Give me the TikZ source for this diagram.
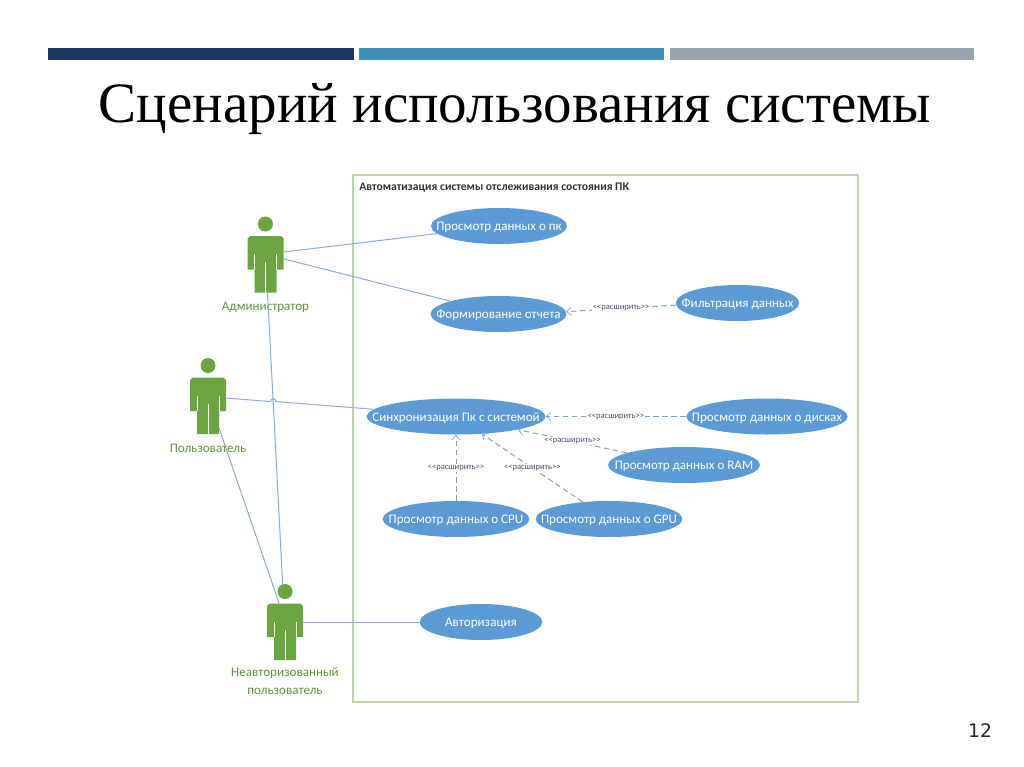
\documentclass[tikz,border=0pt]{standalone}
\usepackage{fontspec}
\setmainfont{Carlito}
\newfontfamily\titlefont{Liberation Serif}
\newfontfamily\numfont{DejaVu Sans}
\usetikzlibrary{shapes.geometric,arrows.meta,calc}
\definecolor{usecase}{HTML}{5B9BD5}
\definecolor{actorgreen}{HTML}{6AA53F}
\definecolor{framegreen}{HTML}{BAD5A6}
\definecolor{assoc}{HTML}{8AABD8}
\definecolor{dashc}{HTML}{7E9FC8}
\definecolor{extc}{HTML}{44546A}
\definecolor{barA}{HTML}{1C3564}
\definecolor{barB}{HTML}{3F8DB9}
\definecolor{barC}{HTML}{97A3AD}
\newcommand{\uctxt}[1]{\smash{\raisebox{-0.38em}{\makebox[0pt]{#1}}}}
\newcommand{\exttxt}{\raisebox{-0.1em}{<{}<расширить>{}>}}
\tikzset{
  x=0.75pt,y=-0.75pt,
  uc/.style={ellipse,fill=usecase,inner sep=0pt,text=white,font=\fontsize{9.8}{11}\selectfont},
  assocline/.style={draw=assoc,line width=0.75pt},
  extline/.style={draw=dashc,line width=0.75pt,dash pattern=on 4.2pt off 2.6pt,-{Straight Barb[length=3.6pt,width=6pt,line width=0.5pt]}},
  extlabel/.style={fill=white,inner sep=0.8pt,text=extc,font=\fontsize{6.4}{7}\selectfont},
  actorlabel/.style={text=actorgreen!90!black,font=\fontsize{9.8}{13}\selectfont,align=center},
  barstyle/.style={inner sep=0pt,minimum height=9pt,anchor=north west},
  actorbox/.style={inner sep=0pt,minimum width=27pt,minimum height=57.5pt}
}
\newcommand{\actorfig}[2]{%
  \begin{scope}[shift={(#1,#2)}]
    \fill[actorgreen] (0,0) circle[radius=7.5];
    \fill[actorgreen] (-15.5,12) -- (15.5,12) -- (18,14.5) -- (18,45.5) -- (11,45.5) -- (11,68.5) -- (-11,68.5) -- (-11,45.5) -- (-18,45.5) -- (-18,14.5) -- cycle;
    \draw[white,line width=0.6pt] (-11,30) -- (-11,45.5) (11,30) -- (11,45.5) (0,38) -- (0,68.5);
  \end{scope}}
\begin{document}
\begin{tikzpicture}
\useasboundingbox (0,0) rectangle (1024,767);
\fill[white] (0,0) rectangle (1024,767);
% header
\node[barstyle,fill=barA,minimum width=229.5pt] (barone) at (48,48) {};
\node[barstyle,fill=barB,minimum width=228.75pt] (bartwo) at (359,48) {};
\node[barstyle,fill=barC,minimum width=228pt] (barthree) at (670,48) {};
\node[font=\titlefont\fontsize{42.8}{50}\selectfont,text=black] (title) at (515,109) {Сценарий использования системы};
% frame
\node[draw=framegreen,line width=1.1pt,minimum width=378.75pt,minimum height=395.25pt,inner sep=0pt] (frame) at (605.5,438.5) {};
\node[anchor=west,text=black!80,font=\fontsize{8.75}{10}\selectfont\bfseries,inner sep=0pt] (frametitle) at (359,187.5) {Автоматизация системы отслеживания состояния ПК};
% actors
\actorfig{265.5}{224}
\actorfig{208}{365.5}
\actorfig{285}{591.5}
\node[actorbox] (admin) at (265.5,255) {};
\node[actorbox] (user) at (208,396.5) {};
\node[actorbox] (guest) at (285,622.5) {};
\node[actorlabel] (adminlabel) at (265.5,307) {Администратор};
\node[actorlabel] (userlabel) at (208,448) {Пользователь};
\node[actorlabel] (guestlabel) at (285,681) {Неавторизованный\\пользователь};
% use cases
\node[uc,minimum width=102pt,minimum height=27pt] (viewpc) at (499,226) {\uctxt{Просмотр данных о пк}};
\node[uc,minimum width=102pt,minimum height=27pt] (report) at (498.5,314) {\uctxt{Формирование отчета}};
\node[uc,minimum width=92.5pt,minimum height=27pt] (filter) at (737.5,303) {\uctxt{Фильтрация данных}};
\node[uc,minimum width=134pt,minimum height=27pt] (sync) at (456,416.5) {\uctxt{Синхронизация Пк с системой}};
\node[uc,minimum width=121pt,minimum height=27pt] (disks) at (767,416.5) {\uctxt{Просмотр данных о дисках}};
\node[uc,minimum width=114pt,minimum height=27pt] (ram) at (684,465) {\uctxt{Просмотр данных о RAM}};
\node[uc,minimum width=110pt,minimum height=27pt] (cpu) at (456,519) {\uctxt{Просмотр данных о CPU}};
\node[uc,minimum width=110pt,minimum height=27pt] (gpu) at (609,519) {\uctxt{Просмотр данных о GPU}};
\node[uc,minimum width=92pt,minimum height=27pt] (auth) at (481,622) {\uctxt{Авторизация}};
% associations
\coordinate (adminR1) at (284,252);
\coordinate (adminR2) at (284,259);
\coordinate (adminB) at (267.5,293);
\coordinate (userR) at (226,398);
\coordinate (userB) at (219,428);
\coordinate (guestT) at (282.7,585);
\coordinate (guestTL) at (279,603);
\coordinate (guestR) at (303,622);
\coordinate (hopstart) at (270.5,401.6);
\draw[assocline] (adminR1) -- (viewpc.187);
\draw[assocline] (adminR2) -- (report.165);
\draw[assocline] (adminB) -- (guestT);
\draw[assocline] (userR) -- (hopstart) arc[start angle=180,end angle=360,radius=2.8] -- (sync.175);
\draw[assocline] (userB) -- (guestTL);
\draw[assocline] (guestR) -- (auth.west);
% extends
\draw[extline] (filter.182) -- node[extlabel,pos=0.5] (extA) {\exttxt} (report.2.6);
\draw[extline] (disks.west) -- node[extlabel,pos=0.5] (extB) {\exttxt} (sync.east);
\draw[extline] (ram.168) -- node[extlabel,pos=0.5] (extC) {\exttxt} (sync.-12);
\draw[extline] (cpu.north) -- node[extlabel,pos=0.5] (extD) {\exttxt} (sync.south);
\draw[extline] (gpu.147) -- node[extlabel,pos=0.5] (extE) {\exttxt} (sync.-34);
\node[font=\numfont\fontsize{14}{16}\selectfont,text=black!85] (pagenum) at (980,731) {12};
\end{tikzpicture}
\end{document}
